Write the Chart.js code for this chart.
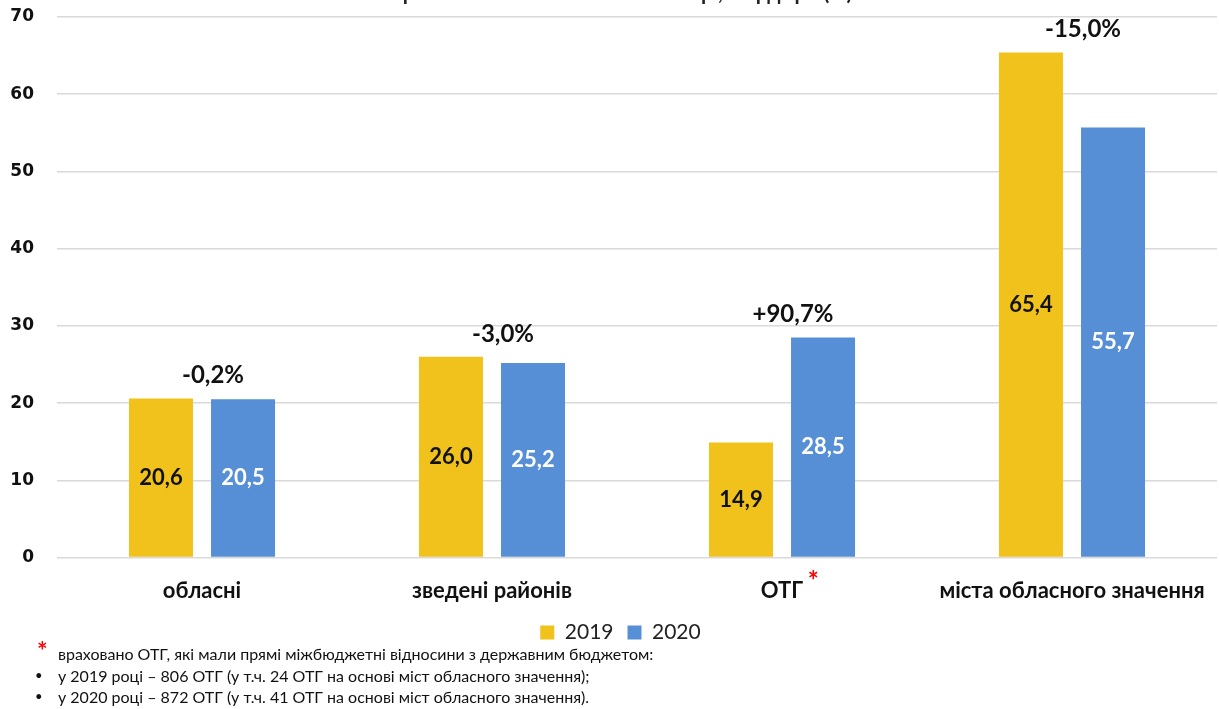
<!DOCTYPE html>
<html>
<head>
<meta charset="utf-8">
<script src="https://cdn.jsdelivr.net/npm/chart.js@4"></script>
<style>
  body { margin: 0; background: #fff; width: 1219px; height: 709px; overflow: hidden; position: relative; font-family: Lato, sans-serif; }
  #wrap { position: absolute; left: 0; top: -16px; width: 1219px; height: 725px; }
  .title { position: absolute; top: -21px; left: 6px; width: 1219px; text-align: center; font: bold 21px Lato, sans-serif; color: #222; }
  .note { position: absolute; left: 0; top: 643px; font: 16px Lato, sans-serif; color: #111; line-height: 21.5px; }
  .note .star { position: absolute; left: 37px; top: -3px; color: #f00; font-size: 25px; font-weight: bold; }
  .note p { margin: 0; padding-left: 58px; position: relative; }
  .note p.b::before { content: "•"; position: absolute; left: 35px; font-size: 13px; }
</style>
</head>
<body>
<div id="wrap"><canvas id="barChart"></canvas></div>
<div class="title">порівняно з 9 міс. – липень 2020 р., млрд грн (%)</div>
<div class="note">
  <span class="star">*</span>
  <p>враховано ОТГ, які мали прямі міжбюджетні відносини з державним бюджетом:</p>
  <p class="b">у 2019 році – 806 ОТГ (у т.ч. 24 ОТГ на основі міст обласного значення);</p>
  <p class="b">у 2020 році – 872 ОТГ (у т.ч. 41 ОТГ на основі міст обласного значення).</p>
</div>
<script>
// data
const categories = ["обласні", "зведені районів", "ОТГ", "міста обласного значення"];
const values2019 = [20.6, 26.0, 14.9, 65.4];
const values2020 = [20.5, 25.2, 28.5, 55.7];
const changes = ["-0,2%", "-3,0%", "+90,7%", "-15,0%"];
const yTicks = [0, 10, 20, 30, 40, 50, 60, 70];

const YELLOW = "#F0C21B";
const BLUE = "#568FD6";
const fmt = (v) => v.toFixed(1).replace(".", ",");

// value labels inside bars, change labels above each pair, red asterisk after ОТГ
const labelsPlugin = {
  id: "labels",
  afterLayout(chart) {
    // legend is centred a bit right of the canvas centre in the original
    if (chart.legend) chart.legend.left += 24;
  },
  afterDatasetsDraw(chart) {
    const ctx = chart.ctx;
    ctx.save();
    ctx.textAlign = "center";
    ctx.textBaseline = "middle";
    ctx.font = "bold 22px Lato, sans-serif";
    chart.data.datasets.forEach((ds, di) => {
      chart.getDatasetMeta(di).data.forEach((bar, i) => {
        ctx.fillStyle = di === 0 ? "#111" : "#fff";
        ctx.fillText(fmt(ds.data[i]), bar.x, (bar.y + bar.base) / 2);
      });
    });
    const m0 = chart.getDatasetMeta(0).data;
    const m1 = chart.getDatasetMeta(1).data;
    ctx.font = "bold 24px Lato, sans-serif";
    ctx.fillStyle = "#111";
    changes.forEach((txt, i) => {
      const top = Math.min(m0[i].y, m1[i].y);
      const x = (m0[i].x + m1[i].x) / 2 + 11;
      ctx.fillText(txt, x, top - 23);
    });
    // asterisk after ОТГ label
    const xs = chart.scales.x;
    ctx.font = "bold 22px Lato, sans-serif";
    const w = ctx.measureText(categories[2]).width;
    ctx.fillStyle = "#f00";
    ctx.font = "bold 26px Lato, sans-serif";
    ctx.fillText("*", xs.getPixelForValue(2) + w / 2 + 10, xs.top + 24);
    ctx.restore();
  },
};

new Chart(document.getElementById("barChart"), {
  type: "bar",
  data: {
    labels: categories,
    datasets: [
      { label: "2019", data: values2019, backgroundColor: YELLOW },
      { label: "2020", data: values2020, backgroundColor: BLUE },
    ],
  },
  options: {
    responsive: true,
    maintainAspectRatio: false,
    animation: false,
    categoryPercentage: 0.566,
    barPercentage: 0.78,
    layout: { padding: { top: 33, right: 2, bottom: 56, left: 0 } },
    plugins: {
      tooltip: { enabled: false },
      legend: {
        position: "bottom",
        labels: {
          boxWidth: 14,
          boxHeight: 14,
          padding: 14,
          color: "#222",
          font: { family: "Lato, sans-serif", size: 21 },
        },
      },
    },
    scales: {
      x: {
        afterFit(axis) {
          axis.height -= 16;
          axis.paddingLeft = 0;
          axis.paddingRight = 0;
        },
        grid: { display: false, drawTicks: false },
        border: { display: false },
        ticks: {
          color: "#111",
          padding: 20,
          font: { family: "Lato, sans-serif", size: 22, weight: "bold" },
        },
      },
      y: {
        min: 0,
        max: 70,
        afterBuildTicks(axis) { axis.ticks = yTicks.map((v) => ({ value: v })); },
        afterFit(axis) {
          axis.width = 57;
          axis.paddingTop = 0;
          axis.paddingBottom = 0;
        },
        grid: { color: "#d9d9d9", lineWidth: 1.5, drawTicks: false },
        border: { display: false },
        ticks: {
          color: "#111",
          padding: 23,
          font: { family: "DejaVu Sans, sans-serif", size: 17, weight: "bold" },
        },
      },
    },
  },
  plugins: [labelsPlugin],
});
</script>
</body>
</html>
